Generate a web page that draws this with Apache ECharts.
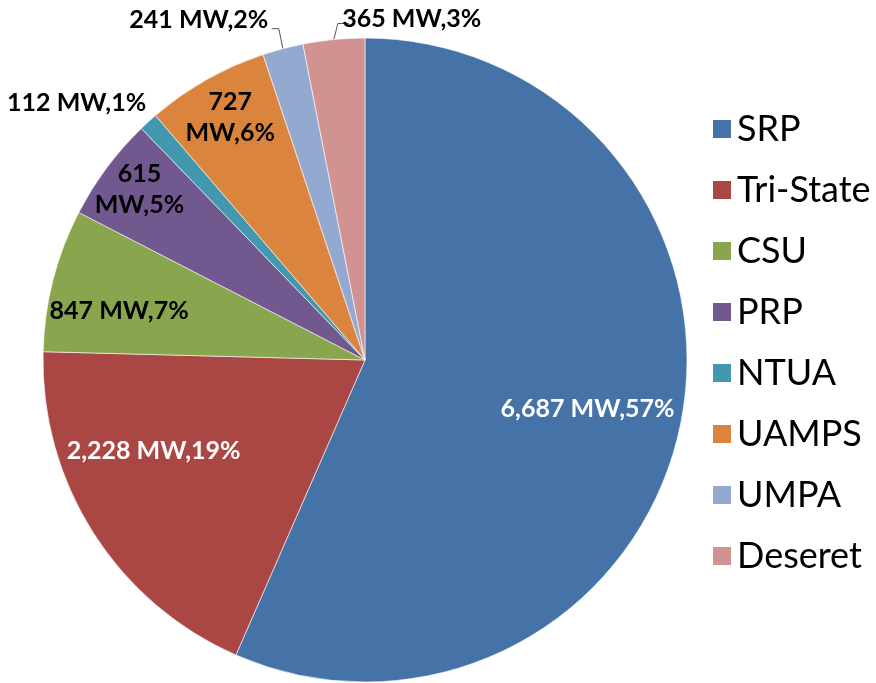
<!DOCTYPE html>
<html>
<head>
<meta charset="utf-8">
<script src="https://cdn.jsdelivr.net/npm/echarts@6/dist/echarts.min.js"></script>
<style>
  html, body { margin: 0; padding: 0; background: #fff; }
  #chart { width: 876px; height: 683px; }
</style>
</head>
<body>
<div id="chart"></div>
<script>
// data
var names = ["SRP", "Tri-State", "CSU", "PRP", "NTUA", "UAMPS", "UMPA", "Deseret"];
var capacityMW = [6687, 2228, 847, 615, 112, 727, 241, 365];

// styling
var colors = ["#4572A7", "#AA4643", "#89A54E", "#71588F", "#4198AF", "#DB843D", "#93A9CF", "#D19392"];
// label placement: inside labels moved from their default spot, outside ones placed from the leader line start
var labelConf = {
  "SRP":       { pos: "inside", color: "#fff", move: [62, 15] },
  "Tri-State": { pos: "inside", color: "#fff", move: [-73, 3] },
  "CSU":       { pos: "inside", color: "#000", move: [-87, -8] },
  "PRP":       { pos: "inside", color: "#000", move: [-94, -73], wrap: true },
  "NTUA":      { pos: "inside", color: "#000", move: [-178, -136] },
  "UAMPS":     { pos: "inside", color: "#000", move: [-54, -100], wrap: true },
  "UMPA":      { pos: "outside", color: "#000", fromLine: [-84, -29], line: [[-4, -20], [-11, -20]] },
  "Deseret":   { pos: "outside", color: "#000", fromLine: [78, -21], line: [[4, -16], [15, -16]] }
};

var chart = echarts.init(document.getElementById("chart"));

var seriesData = names.map(function (n, i) {
  var c = labelConf[n];
  return {
    name: n,
    value: capacityMW[i],
    itemStyle: { color: colors[i] },
    label: { position: c.pos, color: c.color },
    labelLine: { show: c.pos === "outside" }
  };
});

var option = {
  animation: false,
  backgroundColor: "#fff",
  legend: {
    orient: "vertical",
    left: 706,
    top: 106,
    icon: "rect",
    itemWidth: 20,
    itemHeight: 20,
    itemGap: 25,
    data: names,
    textStyle: { fontFamily: "Lato", fontSize: 36, color: "#000", lineHeight: 33 }
  },
  series: [
    {
      type: "pie",
      center: [365, 360],
      radius: 322,
      startAngle: 90,
      clockwise: true,
      avoidLabelOverlap: false,
      percentPrecision: 0,
      itemStyle: { borderColor: "#fff", borderWidth: 0.6 },
      label: {
        fontFamily: "Lato",
        fontWeight: "bold",
        fontSize: 25,
        lineHeight: 31,
        align: "center",
        formatter: function (p) {
          var sep = labelConf[p.name].wrap ? "\n" : " ";
          return p.value.toLocaleString("en-US") + sep + "MW," + p.percent + "%";
        }
      },
      labelLine: {
        length: 20,
        length2: 10,
        lineStyle: { color: "#555", width: 1 }
      },
      labelLayout: function (params) {
        var c = labelConf[names[params.dataIndex]];
        var r = params.labelRect;
        if (c.pos === "inside") {
          return {
            x: r.x + r.width / 2 + c.move[0],
            y: r.y + r.height / 2 + c.move[1],
            align: "center",
            verticalAlign: "middle"
          };
        }
        var p0 = params.labelLinePoints[0];
        return {
          x: p0[0] + c.fromLine[0],
          y: p0[1] + c.fromLine[1],
          align: "center",
          verticalAlign: "middle",
          labelLinePoints: [
            [p0[0], p0[1]],
            [p0[0] + c.line[0][0], p0[1] + c.line[0][1]],
            [p0[0] + c.line[1][0], p0[1] + c.line[1][1]]
          ]
        };
      },
      data: seriesData
    }
  ]
};

chart.setOption(option);
</script>
</body>
</html>
